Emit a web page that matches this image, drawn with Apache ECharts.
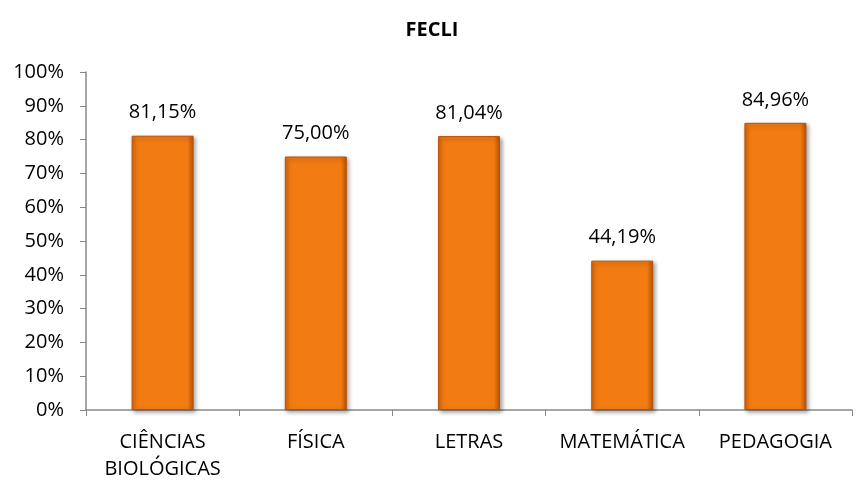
<!DOCTYPE html>
<html>
<head>
<meta charset="utf-8">
<script src="https://cdn.jsdelivr.net/npm/echarts@6/dist/echarts.min.js"></script>
<style>
html,body{margin:0;padding:0;background:#fff;}
#chart{width:864px;height:483px;}
</style>
</head>
<body>
<div id="chart"></div>
<script>
var cursos = ['CIÊNCIAS\nBIOLÓGICAS', 'FÍSICA', 'LETRAS', 'MATEMÁTICA', 'PEDAGOGIA'];
var valores = [81.15, 75.00, 81.04, 44.19, 84.96];

var chart = echarts.init(document.getElementById('chart'));
var fonte = 'Open Sans, Noto Sans, sans-serif';

var option = {
    backgroundColor: '#fff',
    animation: false,
    title: {
        text: 'FECLI',
        left: 'center',
        top: 15,
        textStyle: {color: '#000', fontSize: 20, fontWeight: 'bold', fontFamily: fonte}
    },
    grid: {left: 86, right: 12, top: 72, bottom: 73},
    xAxis: {
        type: 'category',
        data: cursos,
        axisLine: {lineStyle: {color: '#888', width: 1.5}},
        axisTick: {show: true, length: 6, lineStyle: {color: '#888'}},
        axisLabel: {color: '#000', fontSize: 20, fontFamily: fonte, margin: 19, lineHeight: 27, interval: 0}
    },
    yAxis: {
        type: 'value',
        min: 0, max: 100, interval: 10,
        splitLine: {show: false},
        axisLine: {show: true, lineStyle: {color: '#888', width: 1.5}},
        axisTick: {show: true, length: 6, lineStyle: {color: '#888'}},
        axisLabel: {
            color: '#000', fontSize: 20, fontFamily: fonte, margin: 22,
            formatter: function (v) { return v + '%'; }
        }
    },
    series: [{
        type: 'bar',
        data: valores,
        barWidth: 62,
        itemStyle: {
            color: {
                type: 'linear', x: 0, y: 0, x2: 1, y2: 0,
                colorStops: [
                    {offset: 0, color: '#D9640A'},
                    {offset: 0.08, color: '#F27B12'},
                    {offset: 0.9, color: '#F27B12'},
                    {offset: 1, color: '#B85206'}
                ]
            },
            borderColor: '#B85206',
            borderWidth: 1,
            shadowColor: 'rgba(0,0,0,0.35)',
            shadowBlur: 4,
            shadowOffsetX: 2,
            shadowOffsetY: 2
        },
        label: {
            show: true,
            position: 'top',
            distance: 13,
            color: '#000',
            fontSize: 20,
            fontFamily: fonte,
            formatter: function (p) { return p.value.toFixed(2).replace('.', ',') + '%'; }
        }
    }]
};
chart.setOption(option);
</script>
</body>
</html>
